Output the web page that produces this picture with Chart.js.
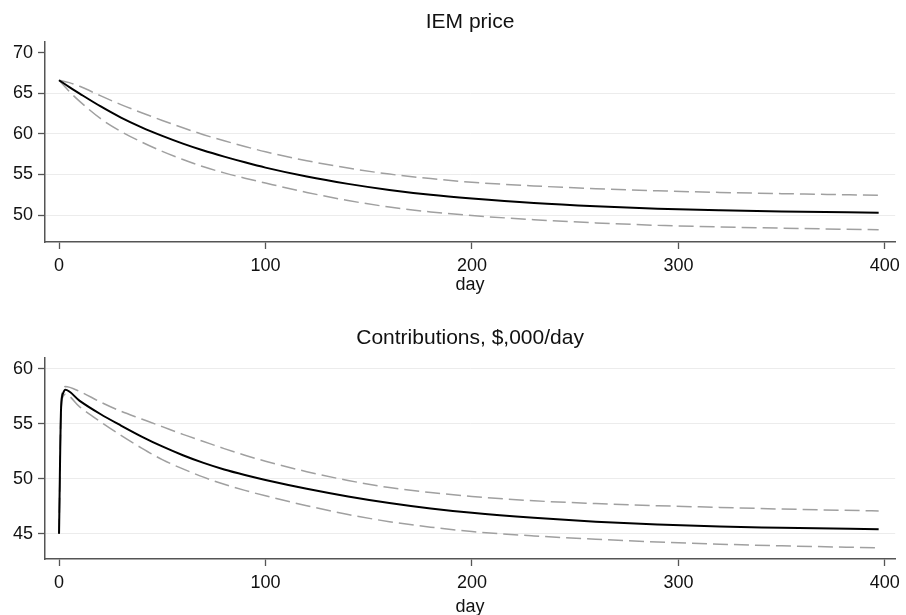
<!DOCTYPE html>
<html><head><meta charset="utf-8">
<script src="https://cdn.jsdelivr.net/npm/chart.js@4"></script>
<style>
html,body{margin:0;padding:0;background:#fff;overflow:hidden}
#wrap{position:relative;width:906px;height:615px;background:#fff;overflow:hidden}
canvas{position:absolute;left:0}
</style></head><body>
<div id="wrap">
<canvas id="c1" width="906" height="300" style="top:0"></canvas>
<canvas id="c2" width="906" height="330" style="top:300px"></canvas>
</div>
<script>
// ---- Data ----
const dayTicks = [0, 100, 200, 300, 400];

const priceTitle = 'IEM price';
const priceDays = [0, 5, 10, 20, 30, 40, 50, 60, 70, 80, 90, 100, 120, 140, 160, 180, 200, 230, 260, 290, 320, 350, 397];
const priceMid  = [66.6, 65.75, 64.95, 63.4, 62.0, 60.8, 59.75, 58.8, 57.95, 57.2, 56.5, 55.85, 54.75, 53.85, 53.1, 52.5, 52.05, 51.5, 51.1, 50.8, 50.6, 50.45, 50.3];
const priceHi   = [66.6, 66.3, 65.85, 64.7, 63.6, 62.6, 61.65, 60.75, 59.9, 59.15, 58.45, 57.8, 56.7, 55.8, 55.05, 54.5, 54.05, 53.6, 53.25, 53.0, 52.8, 52.65, 52.45];
const priceLo   = [66.6, 65.2, 64.0, 61.9, 60.3, 59.0, 57.85, 56.85, 55.95, 55.2, 54.55, 53.95, 52.8, 51.8, 51.0, 50.4, 49.95, 49.45, 49.05, 48.75, 48.55, 48.4, 48.2];
const priceTicks = [50, 55, 60, 65, 70];

const contribTitle = 'Contributions, $,000/day';
const contribDays = [0, 1, 2, 3, 10, 20, 30, 40, 50, 60, 70, 80, 90, 100, 120, 140, 160, 180, 200, 230, 260, 290, 320, 350, 397];
const contribMid  = [45.0, 56.5, 57.8, 58.1, 57.1, 55.9, 54.85, 53.85, 52.95, 52.15, 51.45, 50.85, 50.35, 49.9, 49.1, 48.4, 47.8, 47.3, 46.9, 46.45, 46.1, 45.85, 45.65, 45.55, 45.4];
const contribHi   = [45.0, 56.8, 58.1, 58.4, 57.95, 57.0, 56.15, 55.45, 54.75, 54.05, 53.4, 52.75, 52.15, 51.6, 50.65, 49.85, 49.2, 48.75, 48.4, 48.0, 47.75, 47.55, 47.4, 47.25, 47.07];
const contribLo   = [45.0, 56.3, 57.5, 57.7, 56.55, 55.2, 53.95, 52.8, 51.75, 50.9, 50.15, 49.5, 48.95, 48.45, 47.55, 46.75, 46.1, 45.6, 45.2, 44.8, 44.5, 44.25, 44.05, 43.9, 43.72];
const contribTicks = [45, 50, 55, 60];

const xLabel = 'day';

// ---- Chart builder ----
const FONT = "'Liberation Sans', Arial, Helvetica, sans-serif";
const AXIS = '#555555';
const GRID = '#ececec';

function pts(xs, ys) { return xs.map((x, i) => ({x: x, y: ys[i]})); }

function build(canvas, o) {
  const ds = (data, color, width, dash) => ({
    data: data, borderColor: color, borderWidth: width, borderDash: dash,
    pointRadius: 0, cubicInterpolationMode: 'monotone', fill: false
  });
  return new Chart(canvas, {
    type: 'line',
    data: {
      datasets: [
        ds(pts(o.days, o.mid), '#000000', 2, []),
        ds(pts(o.days, o.hi), '#a0a0a0', 1.5, [15, 6]),
        ds(pts(o.days, o.lo), '#a0a0a0', 1.5, [15, 6])
      ]
    },
    options: {
      responsive: false, animation: false, devicePixelRatio: 1,
      layout: {padding: {left: 0, right: 7, top: 0, bottom: 0}},
      plugins: {
        legend: {display: false}, tooltip: {enabled: false},
        title: {display: true, fullSize: false, text: o.title, color: '#111',
          font: {family: FONT, size: 21, weight: 'normal', lineHeight: 1},
          padding: {top: o.tPadTop, bottom: o.tPadBot}}
      },
      scales: {
        x: {
          type: 'linear', min: -6.8, max: 405,
          afterBuildTicks: s => { s.ticks = dayTicks.map(v => ({value: v})); },
          afterFit: s => { s.height = o.xH; },
          grid: {drawOnChartArea: false, drawTicks: true, tickLength: 7, tickColor: AXIS, tickWidth: 1.3},
          border: {display: true, color: AXIS, width: 1.5},
          ticks: {color: '#111', padding: 6, maxRotation: 0, font: {family: FONT, size: 18}},
          title: {display: true, text: xLabel, color: '#111', font: {family: FONT, size: 18},
            padding: {top: 0, bottom: o.xtPad}}
        },
        y: {
          min: o.yMin, max: o.yMax,
          afterBuildTicks: s => { s.ticks = o.ticks.map(v => ({value: v})); },
          afterFit: s => { s.width = 45; },
          grid: {
            color: c => (c.tick && o.noGrid.includes(c.tick.value)) ? 'rgba(0,0,0,0)' : GRID,
            lineWidth: 1, drawTicks: true, tickLength: 7, tickColor: AXIS, tickWidth: 1.3
          },
          border: {display: true, color: AXIS, width: 1.5},
          ticks: {color: '#111', padding: 5, font: {family: FONT, size: 18}}
        }
      }
    }
  });
}

build(document.getElementById('c1'), {
  title: priceTitle, days: priceDays, mid: priceMid, hi: priceHi, lo: priceLo,
  yMin: 46.7, yMax: 71.3, ticks: priceTicks, noGrid: [70],
  tPadTop: 11.7, tPadBot: 9.3, xH: 58, xtPad: 4.6
});
build(document.getElementById('c2'), {
  title: contribTitle, days: contribDays, mid: contribMid, hi: contribHi, lo: contribLo,
  yMin: 42.7, yMax: 61.0, ticks: contribTicks, noGrid: [],
  tPadTop: 27.4, tPadBot: 9.6, xH: 71, xtPad: 12
});
</script>
</body></html>
